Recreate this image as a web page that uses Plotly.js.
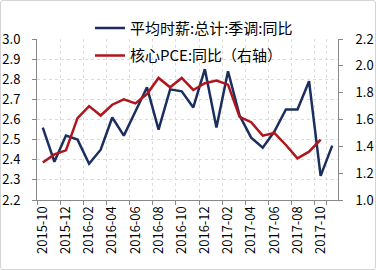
<!DOCTYPE html>
<html><head><meta charset="utf-8">
<script src="https://cdn.plot.ly/plotly-3.0.1.min.js"></script>
<style>
html,body{margin:0;padding:0;background:#fff;}
#wrap{position:relative;width:376px;height:270px;}
#chart{width:376px;height:270px;}
#frame{position:absolute;left:0;top:0;width:376px;height:270px;box-sizing:border-box;border:1px solid #d4d4d4;border-radius:3px;pointer-events:none;}
</style>
</head><body>
<div id="wrap"><div id="chart"></div><div id="frame"></div></div>
<script>
const months = ["2015-10","2015-11","2015-12","2016-01","2016-02","2016-03","2016-04","2016-05","2016-06","2016-07","2016-08","2016-09","2016-10","2016-11","2016-12","2017-01","2017-02","2017-03","2017-04","2017-05","2017-06","2017-07","2017-08","2017-09","2017-10","2017-11"];
const wage = [2.56,2.39,2.52,2.50,2.38,2.45,2.61,2.52,2.64,2.76,2.55,2.75,2.74,2.66,2.85,2.56,2.84,2.62,2.51,2.46,2.54,2.65,2.65,2.79,2.32,2.47];
const pce = [1.28,1.34,1.37,1.61,1.70,1.63,1.71,1.75,1.72,1.79,1.91,1.84,1.91,1.82,1.87,1.89,1.86,1.62,1.58,1.48,1.50,1.41,1.31,1.36,1.45,null];
const wageName = "平均时薪:总计:季调:同比";
const pceName = "核心PCE:同比（右轴）";
const tickLabels = months.filter((m,i)=>i%2===0);

const font = "Noto Sans CJK SC, Liberation Sans, sans-serif";
const traces = [
  {x: months, y: wage, name: wageName, type: "scatter", mode: "lines",
   line: {color: "#1b2f5e", width: 2.5}, legendgroup: "a"},
  {x: months, y: pce, name: pceName, type: "scatter", mode: "lines", yaxis: "y2",
   line: {color: "#b0141c", width: 2.5}, legendgroup: "b"}
];
const layout = {
  width: 376, height: 270,
  margin: {l: 37, r: 38, t: 35, b: 70, pad: 0},
  paper_bgcolor: "#fff", plot_bgcolor: "#fff",
  font: {family: font, size: 13, color: "#000"},
  showlegend: true,
  legend: {x: 0.176, y: 1.17, xanchor: "left", yanchor: "top", bgcolor: "rgba(0,0,0,0)",
           font: {family: font, size: 15, color: "#000"}, traceorder: "grouped", tracegroupgap: 5},
  xaxis: {type: "category", range: [-0.5, 25.5], tickmode: "array", tickvals: tickLabels, ticktext: tickLabels,
          tickson: "boundaries", ticks: "outside", ticklen: 4, tickcolor: "#888", tickangle: -90,
          showgrid: true, gridcolor: "#dcdcdc", griddash: "dot", showline: true, linecolor: "#888", linewidth: 1,
          tickfont: {family: font, size: 13, color: "#000"}, zeroline: false, fixedrange: true},
  yaxis: {range: [2.2, 3.0], dtick: 0.1, tick0: 2.2, tickformat: ".1f", ticks: "outside", ticklen: 4, tickcolor: "#888",
          showgrid: true, gridcolor: "#dcdcdc", griddash: "dot", showline: true, linecolor: "#888", linewidth: 1,
          zeroline: false, ticklabelstandoff: 9, tickfont: {family: font, size: 13, color: "#000"}},
  yaxis2: {range: [1.0, 2.2], dtick: 0.2, tick0: 1.0, tickformat: ".1f", overlaying: "y", side: "right",
           ticks: "outside", ticklen: 4, tickcolor: "#888", showgrid: false, showline: true, linecolor: "#888", linewidth: 1,
           zeroline: false, ticklabelstandoff: 10, tickfont: {family: font, size: 13, color: "#000"}}
};
Plotly.newPlot("chart", traces, layout, {displayModeBar: false, staticPlot: true});
</script>
</body></html>
